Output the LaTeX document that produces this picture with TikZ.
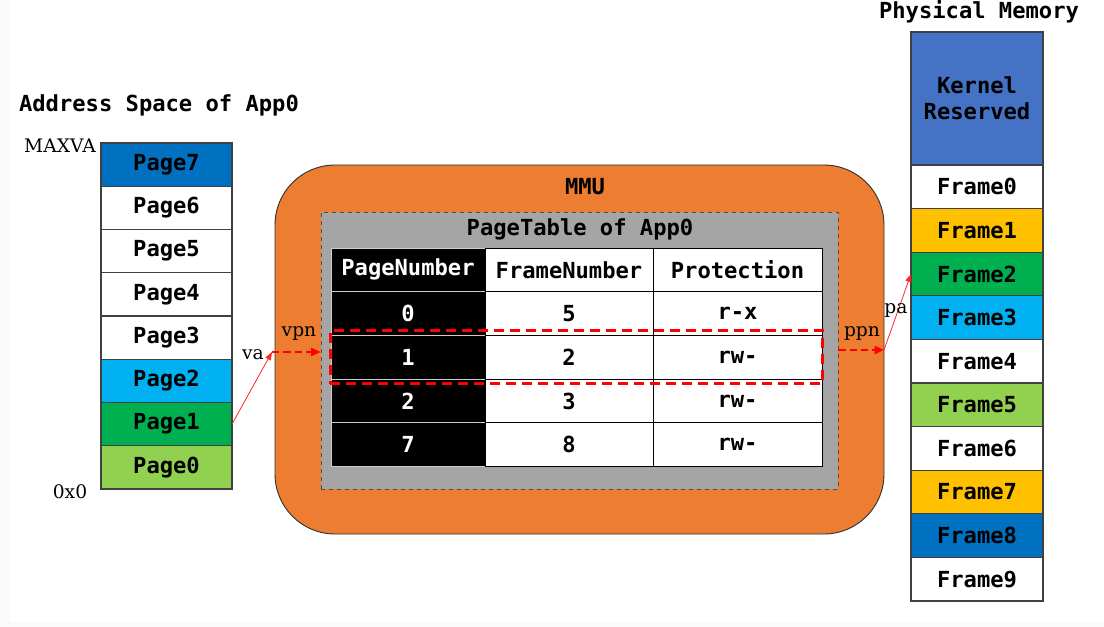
\documentclass[tikz,border=0pt]{standalone}
\usepackage{fontspec}
\setmonofont{DejaVu Sans Mono}
\newfontfamily\addrfont{DejaVu Serif}
\usetikzlibrary{positioning,arrows.meta,fit}
\definecolor{mmuorange}{HTML}{ED7D31}
\definecolor{tblgray}{HTML}{A5A5A5}
\definecolor{darkblue}{HTML}{0070C0}
\definecolor{lightblue}{HTML}{00B0F0}
\definecolor{midgreen}{HTML}{00B050}
\definecolor{lightgreen}{HTML}{92D050}
\definecolor{amber}{HTML}{FFC000}
\definecolor{kernelblue}{HTML}{4472C4}
\tikzset{
  monobold/.style={font=\ttfamily\bfseries\fontsize{16.6}{19.5}\selectfont},
  heading/.style={monobold, inner sep=0pt},
  pagebox/.style={monobold, draw=black!75, line width=0.9pt, fill=white,
                  minimum width=98.25pt, minimum height=32.44pt, inner sep=0pt, outer sep=0pt},
  framebox/.style={pagebox, minimum width=99pt, minimum height=32.7pt},
  cellbox/.style={monobold, draw=black, line width=0.7pt, fill=white,
                  minimum height=32.8pt, inner sep=0pt, outer sep=0pt},
  keycell/.style={cellbox, fill=black, draw=black!20, text=white, minimum width=115.5pt},
  addr/.style={font=\addrfont\fontsize{14}{16}\selectfont, inner sep=0pt},
  fetch/.style={-{Triangle[length=6pt,width=4.5pt]}, red!85!white, line width=0.6pt},
  maparrow/.style={-{Triangle[length=7pt,width=6pt]}, red, line width=1.6pt,
                   dash pattern=on 5.5pt off 3pt},
  selbox/.style={draw=red, line width=2.2pt, dash pattern=on 7.5pt off 4.5pt,
                 inner xsep=0.5pt, inner ysep=3.5pt},
}

\begin{document}
\begin{tikzpicture}[x=0.75pt, y=-0.75pt]
  \useasboundingbox (0,0) rectangle (1104,627);
  \fill[black!2] (0,0) rectangle (1104,627);
  \fill[white] (10,0) rectangle (1104,622);
  % address space of App0
  \node[heading] (astitle) at (159,105) {Address Space of App0};
  \node[pagebox, fill=darkblue, anchor=north west] (p7) at (101,143) {Page7};
  \node[pagebox, below=0pt of p7] (p6) {Page6};
  \node[pagebox, below=0pt of p6] (p5) {Page5};
  \node[pagebox, below=0pt of p5] (p4) {Page4};
  \node[pagebox, below=0pt of p4] (p3) {Page3};
  \node[pagebox, fill=lightblue, below=0pt of p3] (p2) {Page2};
  \node[pagebox, fill=midgreen, below=0pt of p2] (p1) {Page1};
  \node[pagebox, fill=lightgreen, below=0pt of p1] (p0) {Page0};
  \node[addr] (maxva) at (60,146) {MAXVA};
  \node[addr] (zero) at (70,492) {0x0};
  % MMU
  \node[draw=black!80, line width=0.7pt, fill=mmuorange, rounded corners=45pt,
        minimum width=456.75pt, minimum height=276.75pt] (mmu) at (579.5,349.5) {};
  \node[heading] (mmutitle) at (585,187) {MMU};
  \node[draw=black!70, dashed, line width=0.7pt, fill=tblgray,
        minimum width=387.75pt, minimum height=207.75pt] (pt) at (579.5,350.5) {};
  \node[heading] (pttitle) at (580,229) {PageTable of App0};
  % page table
  \node[keycell, anchor=north west] (h1) at (331,248) {PageNumber};
  \node[cellbox, minimum width=126pt, right=0pt of h1] (h2) {FrameNumber};
  \node[cellbox, minimum width=126.75pt, right=0pt of h2] (h3) {Protection};
  \node[keycell, below=0pt of h1] (pn0) {0};
  \node[cellbox, minimum width=126pt, below=0pt of h2] (fn0) {5};
  \node[cellbox, minimum width=126.75pt, below=0pt of h3] (pr0) {r-x};
  \node[keycell, below=0pt of pn0] (pn1) {1};
  \node[cellbox, minimum width=126pt, below=0pt of fn0] (fn1) {2};
  \node[cellbox, minimum width=126.75pt, below=0pt of pr0] (pr1) {rw-};
  \node[keycell, below=0pt of pn1] (pn2) {2};
  \node[cellbox, minimum width=126pt, below=0pt of fn1] (fn2) {3};
  \node[cellbox, minimum width=126.75pt, below=0pt of pr1] (pr2) {rw-};
  \node[keycell, below=0pt of pn2] (pn3) {7};
  \node[cellbox, minimum width=126pt, below=0pt of fn2] (fn3) {8};
  \node[cellbox, minimum width=126.75pt, below=0pt of pr2] (pr3) {rw-};
  \node[selbox, fit=(pn1)(pr1)] (sel) {};
  % physical memory
  \node[heading] (pmtitle) at (979,12) {Physical Memory};
  \node[framebox, fill=kernelblue, minimum height=99.75pt, anchor=north west,
        align=center] (kr) at (911,32) {Kernel\\Reserved};
  \node[framebox, below=0pt of kr] (f0) {Frame0};
  \node[framebox, fill=amber, below=0pt of f0] (f1) {Frame1};
  \node[framebox, fill=midgreen, below=0pt of f1] (f2) {Frame2};
  \node[framebox, fill=lightblue, below=0pt of f2] (f3) {Frame3};
  \node[framebox, below=0pt of f3] (f4) {Frame4};
  \node[framebox, fill=lightgreen, below=0pt of f4] (f5) {Frame5};
  \node[framebox, below=0pt of f5] (f6) {Frame6};
  \node[framebox, fill=amber, below=0pt of f6] (f7) {Frame7};
  \node[framebox, fill=darkblue, below=0pt of f7] (f8) {Frame8};
  \node[framebox, below=0pt of f8] (f9) {Frame9};
  % translation
  \coordinate (vain) at (272,352);
  \coordinate (paout) at (884,350);
  \draw[fetch] (p1.east) -- (vain);
  \draw[maparrow] (vain) -- (vain -| pt.west);
  \draw[maparrow] (paout -| pt.east) -- (paout);
  \draw[fetch] (paout) -- (f2.west);
  \node[addr] (va) at (253,355) {va};
  \node[addr] (vpn) at (299,333) {vpn};
  \node[addr] (ppn) at (862,333) {ppn};
  \node[addr] (pa) at (896,310) {pa};
\end{tikzpicture}
\end{document}
